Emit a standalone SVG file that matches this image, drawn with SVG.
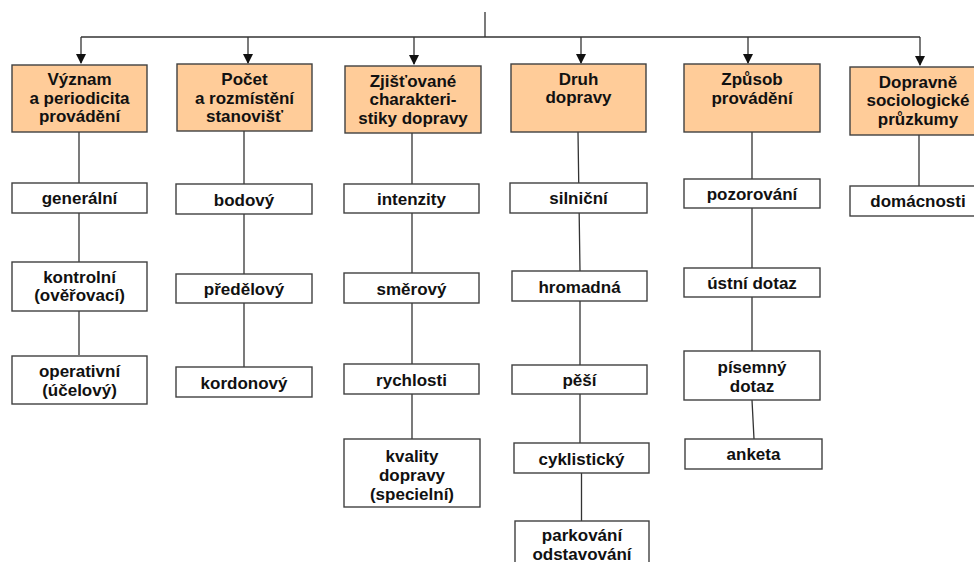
<svg xmlns="http://www.w3.org/2000/svg" width="974" height="562" viewBox="0 0 974 562">
<style>
.h{fill:#FFCC99;stroke:#404040;stroke-width:1.4}
.b{fill:#FFFFFF;stroke:#404040;stroke-width:1.4}
text{font-family:"Liberation Sans",Arial,sans-serif;font-weight:bold;font-size:17px;fill:#111;text-anchor:middle}
.c{stroke:#333;stroke-width:1.3;fill:none}
</style>
<defs>
<marker id="ar" markerWidth="10" markerHeight="10" refX="9" refY="5" orient="auto" markerUnits="userSpaceOnUse">
<path d="M0,0 L10,5 L0,10 Z" fill="#111"/>
</marker>
</defs>
<g id="connectors">
<line class="c" x1="485" y1="12" x2="485" y2="37"/>
<line class="c" x1="81" y1="37" x2="920" y2="37"/>
<line class="c" x1="81" y1="37" x2="81" y2="63" marker-end="url(#ar)"/>
<line class="c" x1="248" y1="37" x2="248" y2="63" marker-end="url(#ar)"/>
<line class="c" x1="414" y1="37" x2="414" y2="64" marker-end="url(#ar)"/>
<line class="c" x1="581" y1="37" x2="581" y2="63" marker-end="url(#ar)"/>
<line class="c" x1="748" y1="37" x2="748" y2="63" marker-end="url(#ar)"/>
<line class="c" x1="920" y1="37" x2="920" y2="65" marker-end="url(#ar)"/>
<line class="c" x1="79" y1="132" x2="79" y2="355"/>
<line class="c" x1="244" y1="131" x2="244" y2="367"/>
<line class="c" x1="412" y1="133" x2="412" y2="439"/>
<path class="c" d="M578,132 L580,271 L580,443 M581.5,473 L581.5,521"/>
<path class="c" d="M752,132 L752,351 M752,400 L754,439"/>
<line class="c" x1="919" y1="135" x2="919" y2="186"/>
</g>
<g id="n1"><rect class="h" x="12" y="65" width="135" height="67"/><text x="79.5" y="85">Význam</text><text x="79.5" y="103.5">a periodicita</text><text x="79.5" y="122">provádění</text></g>
<g id="n2"><rect class="h" x="177" y="64" width="135" height="67"/><text x="244.5" y="85">Počet</text><text x="244.5" y="103.5">a rozmístění</text><text x="244.5" y="122">stanovišť</text></g>
<g id="n3"><rect class="h" x="345" y="66" width="136" height="67"/><text x="413" y="86.5">Zjišťované</text><text x="413" y="105">charakteri-</text><text x="413" y="123.5">stiky dopravy</text></g>
<g id="n4"><rect class="h" x="511" y="64" width="135" height="68"/><text x="578.5" y="85">Druh</text><text x="578.5" y="103">dopravy</text></g>
<g id="n5"><rect class="h" x="684" y="64" width="136" height="68"/><text x="752" y="85">Způsob</text><text x="752" y="103.5">provádění</text></g>
<g id="n6"><rect class="h" x="850" y="67" width="136" height="68"/><text x="918" y="87.5">Dopravně</text><text x="918" y="106">sociologické</text><text x="918" y="124.5">průzkumy</text></g>
<g id="n1a"><rect class="b" x="12" y="183" width="135" height="30"/><text x="79.5" y="204">generální</text></g>
<g id="n1b"><rect class="b" x="12" y="262" width="135" height="49"/><text x="79.5" y="282.5">kontrolní</text><text x="79.5" y="301">(ověřovací)</text></g>
<g id="n1c"><rect class="b" x="12" y="356" width="135" height="48"/><text x="79.5" y="377">operativní</text><text x="79.5" y="395.5">(účelový)</text></g>
<g id="n2a"><rect class="b" x="176" y="184" width="136" height="30"/><text x="244" y="205.5">bodový</text></g>
<g id="n2b"><rect class="b" x="176" y="274" width="136" height="29"/><text x="244" y="294.5">předělový</text></g>
<g id="n2c"><rect class="b" x="176" y="367" width="136" height="30"/><text x="244" y="388.5">kordonový</text></g>
<g id="n3a"><rect class="b" x="344" y="184" width="135" height="29"/><text x="411.5" y="205">intenzity</text></g>
<g id="n3b"><rect class="b" x="344" y="273" width="135" height="30"/><text x="411.5" y="294.5">směrový</text></g>
<g id="n3c"><rect class="b" x="344" y="364" width="135" height="30"/><text x="411.5" y="385.5">rychlosti</text></g>
<g id="n3d"><rect class="b" x="344" y="439" width="136" height="68"/><text x="412" y="461.5">kvality</text><text x="412" y="480.5">dopravy</text><text x="412" y="499.5">(specielní)</text></g>
<g id="n4a"><rect class="b" x="510" y="183" width="137" height="30"/><text x="578.5" y="204">silniční</text></g>
<g id="n4b"><rect class="b" x="512" y="271" width="135" height="30"/><text x="579.5" y="292.5">hromadná</text></g>
<g id="n4c"><rect class="b" x="512" y="365" width="135" height="29"/><text x="579.5" y="386">pěší</text></g>
<g id="n4d"><rect class="b" x="514" y="443" width="135" height="30"/><text x="581.5" y="465">cyklistický</text></g>
<g id="n4e"><rect class="b" x="515" y="521" width="134" height="50"/><text x="582" y="540.5">parkování</text><text x="582" y="559.5">odstavování</text></g>
<g id="n5a"><rect class="b" x="684" y="179" width="136" height="29"/><text x="752" y="200">pozorování</text></g>
<g id="n5b"><rect class="b" x="684" y="268" width="136" height="29"/><text x="752" y="289">ústní dotaz</text></g>
<g id="n5c"><rect class="b" x="684" y="351" width="136" height="49"/><text x="752" y="373">písemný</text><text x="752" y="391.5">dotaz</text></g>
<g id="n5d"><rect class="b" x="685" y="439" width="137" height="30"/><text x="753.5" y="460">anketa</text></g>
<g id="n6a"><rect class="b" x="850" y="186" width="136" height="30"/><text x="918" y="207">domácnosti</text></g>
</svg>
